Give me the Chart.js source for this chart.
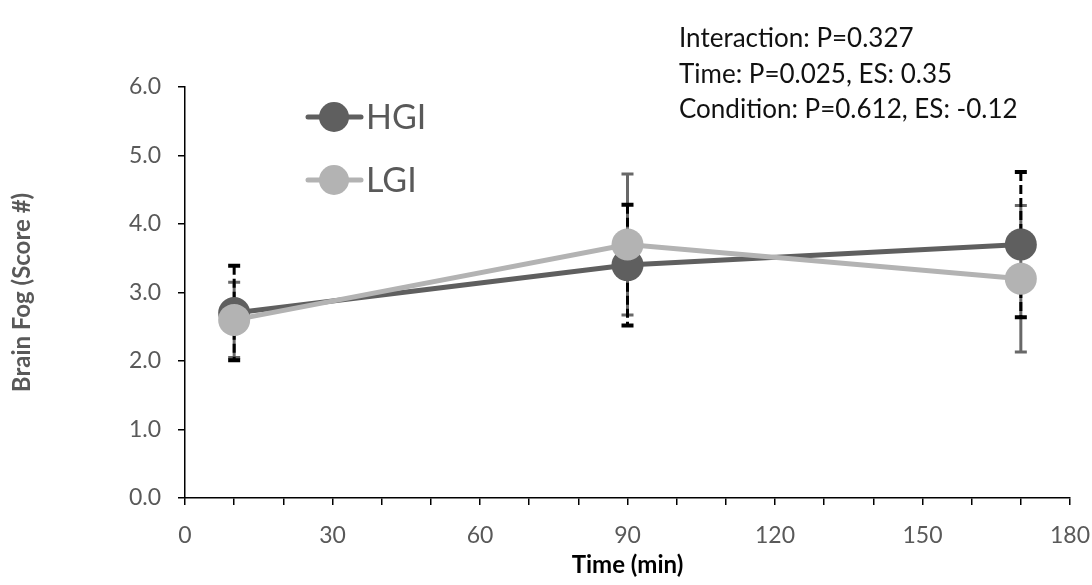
<!DOCTYPE html>
<html>
<head>
<meta charset="utf-8">
<script src="https://cdn.jsdelivr.net/npm/chart.js@4"></script>
<style>
  html, body { margin: 0; padding: 0; background: #ffffff; }
  #wrap { position: relative; width: 1092px; height: 585px; }
</style>
</head>
<body>
<div id="wrap"><canvas id="c" width="1092" height="585"></canvas></div>
<script>
// ---- data ----
const times = [10, 90, 170];
const seriesNames = ['HGI', 'LGI'];
const hgiValues = [2.7, 3.4, 3.7];
const lgiValues = [2.6, 3.7, 3.2];
const hgiErrors = [0.69, 0.88, 1.06];
const lgiErrors = [0.55, 1.03, 1.07];
const xTickLabels = ['0', '30', '60', '90', '120', '150', '180'];
const annotations = [
  'Interaction: P=0.327',
  'Time: P=0.025, ES: 0.35',
  'Condition: P=0.612, ES: -0.12'
];

const FONT = 'Lato, "Open Sans", sans-serif';
const HGI_COLOR = '#5f5f5f';
const LGI_COLOR = '#b3b3b3';

function pts(vals) { return times.map((t, i) => ({ x: t, y: vals[i] })); }

const errorBarPlugin = {
  id: 'errorBars',
  beforeDatasetsDraw(chart) {
    const ctx = chart.ctx;
    const xs = chart.scales.x, ys = chart.scales.y;
    const specs = [
      { vals: lgiValues, errs: lgiErrors, color: '#686868', dash: [], width: 3, capH: 3 },
      { vals: hgiValues, errs: hgiErrors, color: '#000000', dash: [9, 4], width: 3, capH: 4 }
    ];
    specs.forEach(s => {
      times.forEach((t, i) => {
        const px = xs.getPixelForValue(t);
        const top = ys.getPixelForValue(s.vals[i] + s.errs[i]);
        const bot = ys.getPixelForValue(s.vals[i] - s.errs[i]);
        ctx.save();
        ctx.strokeStyle = s.color;
        ctx.lineWidth = s.width;
        ctx.setLineDash(s.dash);
        ctx.beginPath();
        ctx.moveTo(px, top);
        ctx.lineTo(px, bot);
        ctx.stroke();
        ctx.setLineDash([]);
        ctx.lineWidth = s.capH;
        ctx.beginPath();
        ctx.moveTo(px - 6, top); ctx.lineTo(px + 6, top);
        ctx.moveTo(px - 6, bot); ctx.lineTo(px + 6, bot);
        ctx.stroke();
        ctx.restore();
      });
    });
  }
};

const legendPlugin = {
  id: 'customLegend',
  afterDatasetsDraw(chart) {
    const ctx = chart.ctx;
    const items = [
      { name: seriesNames[0], color: HGI_COLOR, y: 117 },
      { name: seriesNames[1], color: LGI_COLOR, y: 180 }
    ];
    items.forEach(it => {
      ctx.save();
      ctx.strokeStyle = it.color;
      ctx.lineWidth = 5;
      ctx.lineCap = 'round';
      ctx.beginPath();
      ctx.moveTo(308, it.y); ctx.lineTo(361, it.y);
      ctx.stroke();
      ctx.fillStyle = it.color;
      ctx.beginPath();
      ctx.arc(334, it.y, 15, 0, Math.PI * 2);
      ctx.fill();
      ctx.fillStyle = '#595959';
      ctx.font = '34px ' + FONT;
      ctx.textBaseline = 'middle';
      ctx.textAlign = 'left';
      ctx.fillText(it.name, 366, it.y + 1);
      ctx.restore();
    });
  }
};

const annotationPlugin = {
  id: 'annot',
  afterDraw(chart) {
    const ctx = chart.ctx;
    ctx.save();
    ctx.fillStyle = '#111111';
    ctx.font = '26px ' + FONT;
    ctx.textBaseline = 'middle';
    ctx.textAlign = 'left';
    annotations.forEach((t, i) => ctx.fillText(t, 679, 39 + i * 35.5));
    ctx.restore();
  }
};

new Chart(document.getElementById('c'), {
  type: 'line',
  data: {
    datasets: [
      {
        label: seriesNames[0], data: pts(hgiValues),
        borderColor: HGI_COLOR, backgroundColor: HGI_COLOR,
        borderWidth: 5, pointRadius: 16, pointHoverRadius: 16,
        pointBackgroundColor: HGI_COLOR, pointBorderWidth: 0,
        tension: 0, order: 2
      },
      {
        label: seriesNames[1], data: pts(lgiValues),
        borderColor: LGI_COLOR, backgroundColor: LGI_COLOR,
        borderWidth: 5, pointRadius: 16, pointHoverRadius: 16,
        pointBackgroundColor: LGI_COLOR, pointBorderWidth: 0,
        tension: 0, order: 1
      }
    ]
  },
  options: {
    responsive: false,
    animation: false,
    events: [],
    layout: { padding: { top: 87, right: 22, left: 0, bottom: 0 } },
    plugins: { legend: { display: false }, tooltip: { enabled: false } },
    scales: {
      x: {
        type: 'linear', min: 0, max: 180,
        afterFit(s) { s.height = 87; s.paddingLeft = 0; s.paddingRight = 0; },
        border: { color: '#000000', width: 1.5 },
        grid: { drawOnChartArea: false, drawTicks: true, tickLength: 7, color: '#000000', lineWidth: 1.5 },
        ticks: {
          stepSize: 10, padding: 17, color: '#595959',
          font: { family: FONT, size: 23 },
          maxRotation: 0, autoSkip: false,
          callback(v) { return (v % 30 === 0) ? xTickLabels[v / 30] : ''; }
        },
        title: {
          display: true, text: 'Time (min)', color: '#000000',
          font: { family: FONT, size: 24, weight: 'bold' },
          padding: { top: 0, bottom: 5 }
        }
      },
      y: {
        min: 0, max: 6,
        afterFit(s) { s.width = 185; s.paddingTop = 0; s.paddingBottom = 0; },
        border: { color: '#000000', width: 1.5 },
        grid: { drawOnChartArea: false, drawTicks: true, tickLength: 7, color: '#000000', lineWidth: 1.5 },
        ticks: {
          stepSize: 1, padding: 17, color: '#595959',
          font: { family: FONT, size: 23 },
          callback(v) { return v.toFixed(1); }
        },
        title: {
          display: true, text: 'Brain Fog (Score #)', color: '#595959',
          font: { family: FONT, size: 24, weight: 'bold' },
          padding: { top: 8, bottom: 0 }
        }
      }
    }
  },
  plugins: [errorBarPlugin, legendPlugin, annotationPlugin]
});
</script>
</body>
</html>
